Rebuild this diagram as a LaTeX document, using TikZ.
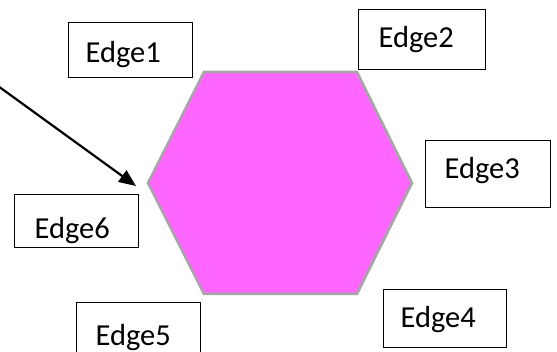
\documentclass[tikz,border=0pt]{standalone}
\usepackage{fontspec}
\setmainfont{Carlito}
\usetikzlibrary{arrows.meta}
\definecolor{hexfill}{HTML}{FF66FF}
\definecolor{hexline}{HTML}{A6A6A6}
\begin{document}
\begin{tikzpicture}[x=1pt,y=-1pt,
  ebox/.style={draw=black, line width=1.1pt, align=left, inner ysep=0pt, anchor=north west, font=\fontsize{30.5}{36}\selectfont},
  hex/.style={fill=hexfill, draw=hexline, line width=2.5pt, line join=miter},
  pointer/.style={-{Triangle[length=17pt,width=14pt]}, line width=2.2pt}]
\useasboundingbox (0,0) rectangle (557,352);
\clip (0,0) rectangle (557,352);
\coordinate (h1) at (204,72);
\coordinate (h2) at (357,72);
\coordinate (h3) at (412,183);
\coordinate (h4) at (357,294);
\coordinate (h5) at (204,294);
\coordinate (h6) at (148,183);
\draw[hex] (h1) -- (h2) -- (h3) -- (h4) -- (h5) -- (h6) -- cycle;
\node[ebox, inner xsep=17pt, text width=90pt, text height=40pt, text depth=15pt] (e1) at (68,22) {Edge1};
\node[ebox, inner xsep=20pt, text width=87pt, text height=38pt, text depth=22pt] (e2) at (358,9) {Edge2};
\node[ebox, inner xsep=19pt, text width=87pt, text height=38pt, text depth=29pt] (e3) at (425,140) {Edge3};
\node[ebox, inner xsep=17pt, text width=89pt, text height=38pt, text depth=20pt] (e4) at (383,289) {Edge4};
\node[ebox, inner xsep=19pt, text width=86pt, text height=43pt, text depth=12pt] (e5) at (76,302) {Edge5};
\node[ebox, inner xsep=20pt, text width=84pt, text height=44pt, text depth=9pt] (e6) at (14,194) {Edge6};
\coordinate (astart) at (-2,86);
\coordinate (atip) at (136,186);
\draw[pointer] (astart) -- (atip);
\end{tikzpicture}
\end{document}
